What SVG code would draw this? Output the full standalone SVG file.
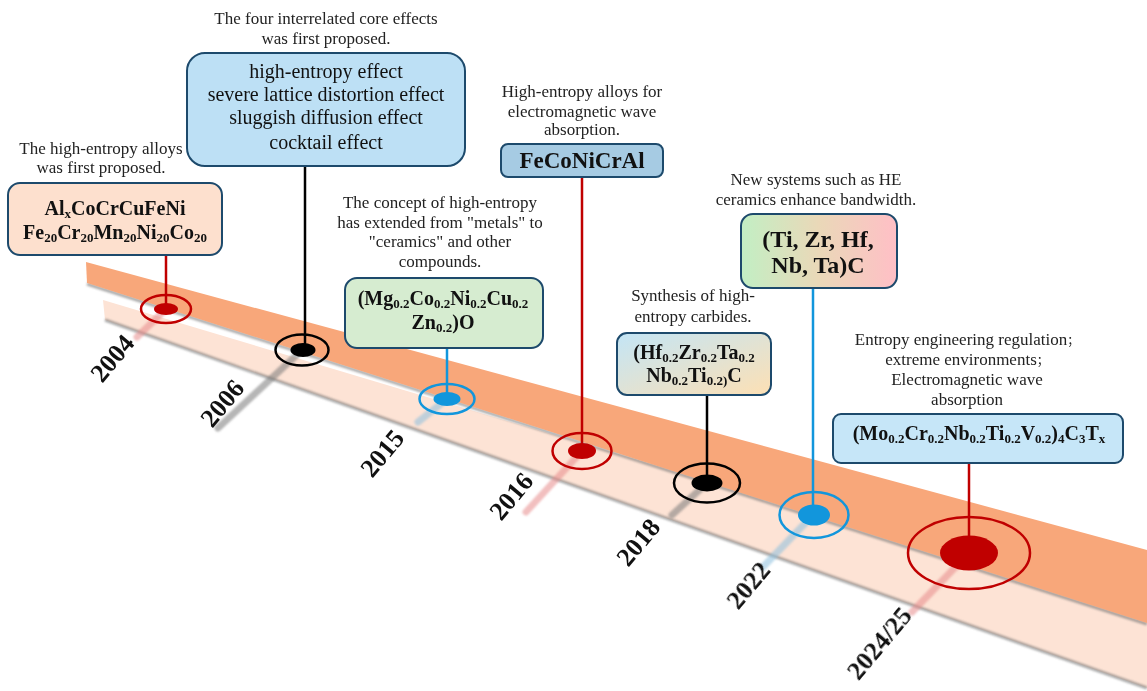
<svg xmlns="http://www.w3.org/2000/svg" width="1147" height="691" viewBox="0 0 1147 691">
<defs>
<style>
.cap{font-family:"Liberation Serif","Times New Roman",serif;font-size:17px;fill:#222;text-anchor:middle}
.bx{stroke:#1d4a6c;stroke-width:2}
.f{font-family:"Liberation Serif","Times New Roman",serif;font-weight:bold;font-size:20px;fill:#111;text-anchor:middle}
.r{font-family:"Liberation Serif","Times New Roman",serif;font-size:20px;fill:#111;text-anchor:middle}
.s{font-size:13px}
.yr{font-family:"Liberation Serif","Times New Roman",serif;font-weight:bold;font-size:26px;fill:#111;text-anchor:middle}
.ring{fill:none;stroke-width:2.5}
.stem{stroke-width:7;stroke-linecap:round;opacity:.55}
.shadow{stroke:#6f6f6f;stroke-width:3;opacity:.6;fill:none}
</style>
<filter id="blur" x="-20%" y="-20%" width="140%" height="140%"><feGaussianBlur stdDeviation="1.3"/></filter>
<linearGradient id="gHf" x1="0" y1="0" x2="1" y2="1">
<stop offset="0" stop-color="#c3e5f6"/><stop offset="1" stop-color="#fde0b4"/>
</linearGradient>
<linearGradient id="gTi" x1="0" y1="0" x2="1" y2="0">
<stop offset="0" stop-color="#c2efc4"/><stop offset="0.5" stop-color="#ead8b8"/><stop offset="1" stop-color="#ffbfc6"/>
</linearGradient>
</defs>
<rect width="1147" height="691" fill="#ffffff"/>

<g id="timeline">
<polygon points="103,300 1147,612 1147,688 105,320" fill="#fde3d5"/>
<line x1="105" y1="320" x2="1147" y2="688" class="shadow" filter="url(#blur)"/>
<line x1="87" y1="284" x2="1147" y2="624" class="shadow" filter="url(#blur)"/>
<polygon points="86,262 1147,550 1147,623 87,283" fill="#f8a77a"/>
</g>

<g id="stems" filter="url(#blur)">
<line class="stem" x1="166" y1="309" x2="137" y2="337" stroke="#e88a8a"/>
<line class="stem" x1="302" y1="350" x2="218" y2="428" stroke="#7a7a7a"/>
<line class="stem" x1="447" y1="399" x2="418" y2="422" stroke="#8cc0de"/>
<line class="stem" x1="582" y1="451" x2="526" y2="512" stroke="#e88a8a"/>
<line class="stem" x1="707" y1="483" x2="672" y2="515" stroke="#7a7a7a"/>
<line class="stem" x1="813" y1="515" x2="763" y2="567" stroke="#8cc0de"/>
<line class="stem" x1="969" y1="553" x2="912" y2="612" stroke="#e88a8a"/>
</g>

<g id="connectors" stroke-width="2.5">
<line x1="166" y1="255" x2="166" y2="309" stroke="#c00000"/>
<line x1="305" y1="166" x2="305" y2="350" stroke="#000"/>
<line x1="447" y1="348" x2="447" y2="399" stroke="#1296dc"/>
<line x1="582" y1="177" x2="582" y2="451" stroke="#c00000"/>
<line x1="707" y1="395" x2="707" y2="483" stroke="#000"/>
<line x1="813" y1="288" x2="813" y2="515" stroke="#1296dc"/>
<line x1="969" y1="463" x2="969" y2="553" stroke="#c00000"/>
</g>

<g id="dot2004"><ellipse class="ring" cx="166" cy="309" rx="25" ry="14" stroke="#c00000"/><ellipse cx="166" cy="309" rx="12" ry="6" fill="#c00000"/></g>
<g id="dot2006"><ellipse class="ring" cx="302" cy="350" rx="26.5" ry="15.5" stroke="#000"/><ellipse cx="303" cy="350" rx="12.5" ry="7" fill="#000"/></g>
<g id="dot2015"><ellipse class="ring" cx="447" cy="399" rx="27.5" ry="15" stroke="#1296dc"/><ellipse cx="447" cy="399" rx="13.5" ry="7" fill="#1296dc"/></g>
<g id="dot2016"><ellipse class="ring" cx="582" cy="451" rx="29.5" ry="18" stroke="#c00000"/><ellipse cx="582" cy="451" rx="14" ry="8" fill="#c00000"/></g>
<g id="dot2018"><ellipse class="ring" cx="707" cy="483" rx="33" ry="19.5" stroke="#000"/><ellipse cx="707" cy="483" rx="15.5" ry="8.5" fill="#000"/></g>
<g id="dot2022"><ellipse class="ring" cx="814" cy="515" rx="34.5" ry="23" stroke="#1296dc"/><ellipse cx="814" cy="515" rx="16" ry="10.5" fill="#1296dc"/></g>
<g id="dot2024"><ellipse class="ring" cx="969" cy="553" rx="61" ry="36" stroke="#c00000"/><ellipse cx="969" cy="553" rx="29" ry="17.5" fill="#c00000"/></g>

<g id="years">
<text class="yr" transform="translate(112,358) rotate(-50)" y="9">2004</text>
<text class="yr" transform="translate(222,403) rotate(-50)" y="9">2006</text>
<text class="yr" transform="translate(382,453) rotate(-50)" y="9">2015</text>
<text class="yr" transform="translate(511,496) rotate(-50)" y="9">2016</text>
<text class="yr" transform="translate(638,542) rotate(-50)" y="9">2018</text>
<text class="yr" transform="translate(748,585) rotate(-50)" y="9">2022</text>
<text class="yr" transform="translate(879,643) rotate(-50)" y="9">2024/25</text>
</g>

<g id="node2004">
<text class="cap" x="101" y="154">The high-entropy alloys</text>
<text class="cap" x="101" y="173">was first proposed.</text>
<rect class="bx" x="8" y="183" width="214" height="72" rx="12" fill="#fde0ce"/>
<text class="f" x="115" y="215">Al<tspan class="s" dy="3">x</tspan><tspan dy="-3">CoCrCuFeNi</tspan></text>
<text class="f" x="115" y="239">Fe<tspan class="s" dy="3">20</tspan><tspan dy="-3">Cr</tspan><tspan class="s" dy="3">20</tspan><tspan dy="-3">Mn</tspan><tspan class="s" dy="3">20</tspan><tspan dy="-3">Ni</tspan><tspan class="s" dy="3">20</tspan><tspan dy="-3">Co</tspan><tspan class="s" dy="3">20</tspan></text>
</g>

<g id="node2006">
<text class="cap" x="326" y="24">The four interrelated core effects</text>
<text class="cap" x="326" y="44">was first proposed.</text>
<rect class="bx" x="187" y="53" width="278" height="113" rx="18" fill="#bde0f5"/>
<text class="r" x="326" y="78">high-entropy effect</text>
<text class="r" x="326" y="101">severe lattice distortion effect</text>
<text class="r" x="326" y="124">sluggish diffusion effect</text>
<text class="r" x="326" y="149">cocktail effect</text>
</g>

<g id="node2015">
<text class="cap" x="440" y="208">The concept of high-entropy</text>
<text class="cap" x="440" y="228">has extended from "metals" to</text>
<text class="cap" x="440" y="247">"ceramics" and other</text>
<text class="cap" x="440" y="267">compounds.</text>
<rect class="bx" x="345" y="278" width="198" height="70" rx="12" fill="#d6ecd0"/>
<text class="f" x="443" y="305">(Mg<tspan class="s" dy="3">0.2</tspan><tspan dy="-3">Co</tspan><tspan class="s" dy="3">0.2</tspan><tspan dy="-3">Ni</tspan><tspan class="s" dy="3">0.2</tspan><tspan dy="-3">Cu</tspan><tspan class="s" dy="3">0.2</tspan></text>
<text class="f" x="443" y="329">Zn<tspan class="s" dy="3">0.2</tspan><tspan dy="-3">)O</tspan></text>
</g>

<g id="node2016">
<text class="cap" x="582" y="97">High-entropy alloys for</text>
<text class="cap" x="582" y="117">electromagnetic wave</text>
<text class="cap" x="582" y="135">absorption.</text>
<rect class="bx" x="501" y="144" width="162" height="33" rx="7" fill="#a6cbe3"/>
<text class="f" x="582" y="168" style="font-size:23px">FeCoNiCrAl</text>
</g>

<g id="node2018">
<text class="cap" x="693" y="301">Synthesis of high-</text>
<text class="cap" x="693" y="322">entropy carbides.</text>
<rect class="bx" x="617" y="333" width="154" height="62" rx="10" fill="url(#gHf)"/>
<text class="f" x="694" y="359">(Hf<tspan class="s" dy="3">0.2</tspan><tspan dy="-3">Zr</tspan><tspan class="s" dy="3">0.2</tspan><tspan dy="-3">Ta</tspan><tspan class="s" dy="3">0.2</tspan></text>
<text class="f" x="694" y="382">Nb<tspan class="s" dy="3">0.2</tspan><tspan dy="-3">Ti</tspan><tspan class="s" dy="3">0.2)</tspan><tspan dy="-3">C</tspan></text>
</g>

<g id="node2022">
<text class="cap" x="816" y="185">New systems such as HE</text>
<text class="cap" x="816" y="205">ceramics enhance bandwidth.</text>
<rect class="bx" x="741" y="214" width="156" height="74" rx="12" fill="url(#gTi)"/>
<text class="f" x="818" y="247" style="font-size:24px">(Ti, Zr, Hf,</text>
<text class="f" x="818" y="273" style="font-size:24px">Nb, Ta)C</text>
</g>

<g id="node2024">
<text class="cap" x="967" y="345">Entropy engineering regulation<tspan font-family="'Noto Sans CJK SC',sans-serif" font-size="12">；</tspan></text>
<text class="cap" x="967" y="365">extreme environments<tspan font-family="'Noto Sans CJK SC',sans-serif" font-size="12">；</tspan></text>
<text class="cap" x="967" y="385">Electromagnetic wave</text>
<text class="cap" x="967" y="405">absorption</text>
<rect class="bx" x="833" y="414" width="290" height="49" rx="8" fill="#c6e6f8"/>
<text class="f" x="979" y="440">(Mo<tspan class="s" dy="3">0.2</tspan><tspan dy="-3">Cr</tspan><tspan class="s" dy="3">0.2</tspan><tspan dy="-3">Nb</tspan><tspan class="s" dy="3">0.2</tspan><tspan dy="-3">Ti</tspan><tspan class="s" dy="3">0.2</tspan><tspan dy="-3">V</tspan><tspan class="s" dy="3">0.2</tspan><tspan dy="-3">)</tspan><tspan class="s" dy="3">4</tspan><tspan dy="-3">C</tspan><tspan class="s" dy="3">3</tspan><tspan dy="-3">T</tspan><tspan class="s" dy="3">x</tspan></text>
</g>
</svg>
